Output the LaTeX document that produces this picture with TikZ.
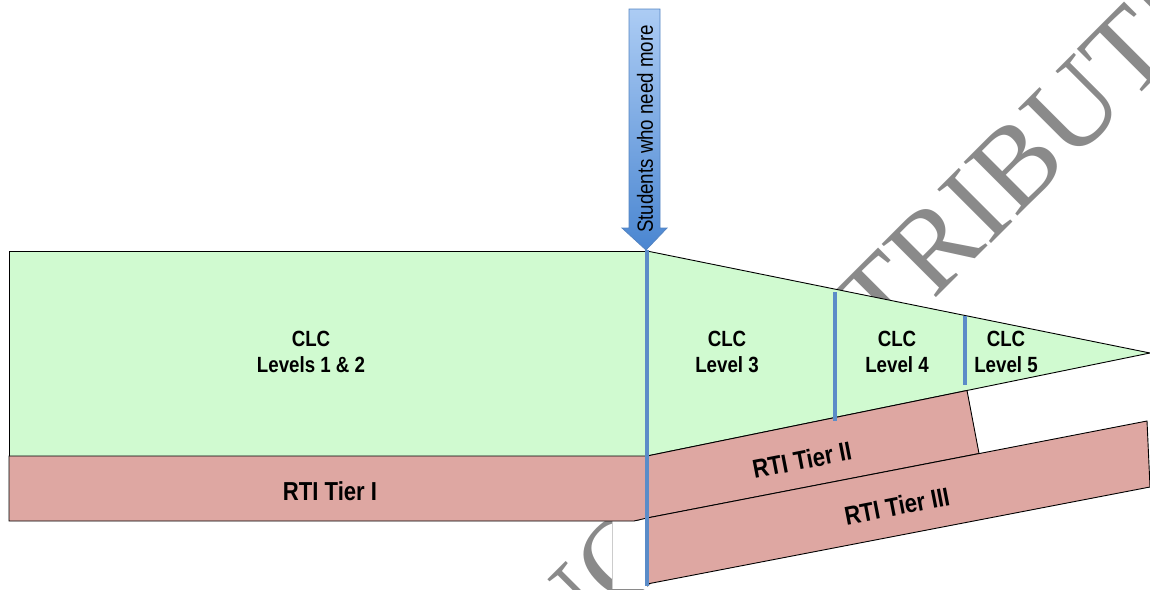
\documentclass[tikz,border=0pt]{standalone}
\usepackage{fontspec}
\setmainfont{Liberation Sans}
\newfontfamily\condfont[FakeStretch=0.85]{Liberation Sans}
\newfontfamily\wmfont{Liberation Serif}
\usetikzlibrary{shadings}
\definecolor{clcgreen}{RGB}{208,250,208}
\definecolor{rtipink}{RGB}{222,167,162}
\definecolor{divblue}{RGB}{91,140,200}
\definecolor{arrtop}{RGB}{172,204,244}
\definecolor{arrbot}{RGB}{74,134,209}
\definecolor{arrline}{RGB}{84,132,194}
\definecolor{wmgray}{RGB}{138,138,138}
\tikzset{
  region/.style={draw=black, line width=0.9pt, line join=miter},
  clcfill/.style={region, fill=clcgreen},
  rtifill/.style={region, fill=rtipink},
  divider/.style={draw=divblue, line width=3.3pt},
  lbl/.style={font=\condfont\bfseries\fontsize{22}{26}\selectfont, align=center, inner sep=0pt},
  rtilbl/.style={font=\condfont\bfseries\fontsize{26}{30}\selectfont, inner sep=0pt},
  watermark/.style={font=\wmfont\fontsize{116}{116}\selectfont, text=wmgray, inner sep=0pt},
}
\begin{document}
\begin{tikzpicture}[x=1pt, y=-1pt]
\useasboundingbox (0,0) rectangle (1150,589);
% watermark (behind)
\node[watermark, rotate=45] (wm) at (800,381) {DO NOT DISTRIBUTE};
% white cover box
\coordinate (wb1) at (612,521);
\coordinate (wb2) at (647,589);
\coordinate (wb3) at (612,589);
\fill[white] (wb1) rectangle (wb2);
\draw[draw=black!20, line width=0.6pt] (wb1) -- (wb3);
% coordinates
\coordinate (A) at (9,251);
\coordinate (B) at (647,251);
\coordinate (C) at (647,456);
\coordinate (D) at (9,456);
\coordinate (E) at (9,521);
\coordinate (F) at (634,521);
\coordinate (G) at (647,518);
\coordinate (T) at (1150,353);
\coordinate (H) at (967,390.5);
\coordinate (I) at (979,453.5);
\coordinate (J) at (1147,421);
\coordinate (K) at (1150,487);
\coordinate (L) at (647,584);
% regions
\path[clcfill] (A) -- (B) -- (C) -- (D) -- cycle;
\path[rtifill] (D) -- (C) -- (G) -- (F) -- (E) -- cycle;
\path[clcfill] (B) -- (T) -- (C) -- cycle;
\path[rtifill] (C) -- (H) -- (I) -- (G) -- cycle;
\path[rtifill] (G) -- (J) -- (K) -- (L) -- cycle;
% dividers
\coordinate (d1t) at (647,250);
\coordinate (d1b) at (647,586);
\coordinate (d2t) at (835,292);
\coordinate (d2b) at (835,421);
\coordinate (d3t) at (965,316);
\coordinate (d3b) at (965,385);
\draw[divider] (d1t) -- (d1b);
\draw[divider] (d2t) -- (d2b);
\draw[divider] (d3t) -- (d3b);
% labels
\node[lbl] (clc12) at (311,352) {CLC\\Levels 1 \& 2};
\node[lbl] (clc3) at (727,352) {CLC\\Level 3};
\node[lbl] (clc4) at (897,352) {CLC\\Level 4};
\node[lbl] (clc5) at (1006,352) {CLC\\Level 5};
\node[rtilbl] (t1) at (330,491) {RTI Tier I};
\node[rtilbl, rotate=11] (t2) at (802,460) {RTI Tier II};
\node[rtilbl, rotate=11] (t3) at (897,506) {RTI Tier III};
% arrow
\path[draw=arrline, line width=0.8pt, top color=arrtop, bottom color=arrbot, line join=miter]
  (629,9) -- (660,9) -- (660,228) -- (667,228) -- (646,250) -- (622,228) -- (629,228) -- cycle;
\node[rotate=90, font=\condfont\fontsize{22}{26}\selectfont, inner sep=0pt] (arrtxt) at (645,129) {Students who need more};
\end{tikzpicture}
\end{document}
